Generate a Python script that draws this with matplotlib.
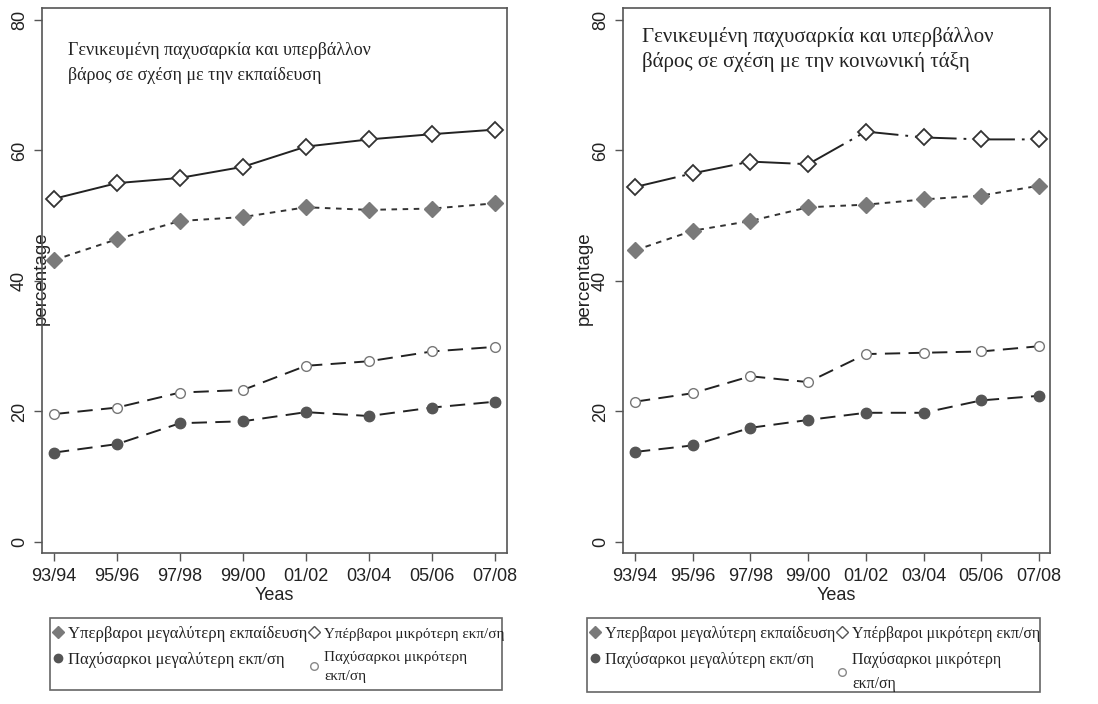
import matplotlib
matplotlib.use("Agg")
import matplotlib.pyplot as plt
import numpy as np
from matplotlib.lines import Line2D
from matplotlib.patches import Rectangle

years = ["93/94", "95/96", "97/98", "99/00", "01/02", "03/04", "05/06", "07/08"]
y_ticks = [0, 20, 40, 60, 80]

# left panel: education
edu_over_high = [43.2, 46.4, 49.2, 49.8, 51.3, 50.9, 51.1, 51.9]
edu_over_low = [52.6, 55.0, 55.8, 57.5, 60.6, 61.7, 62.5, 63.2]
edu_obese_high = [13.7, 15.0, 18.2, 18.5, 19.9, 19.3, 20.6, 21.5]
edu_obese_low = [19.6, 20.6, 22.9, 23.3, 27.0, 27.7, 29.2, 29.9]

# right panel: social class
cls_over_high = [44.7, 47.7, 49.2, 51.3, 51.7, 52.5, 53.1, 54.6]
cls_over_low = [54.4, 56.5, 58.3, 57.9, 62.9, 62.0, 61.7, 61.7]
cls_obese_high = [13.8, 14.8, 17.5, 18.7, 19.8, 19.8, 21.7, 22.4]
cls_obese_low = [21.5, 22.8, 25.4, 24.5, 28.8, 29.0, 29.2, 30.0]

titles = [
    "Γενικευμένη παχυσαρκία και υπερβάλλον\nβάρος σε σχέση με την εκπαίδευση",
    "Γενικευμένη παχυσαρκία και υπερβάλλον\nβάρος σε σχέση με την κοινωνική τάξη",
]
legend_labels = [
    "Υπερβαροι μεγαλύτερη εκπαίδευση",
    "Παχύσαρκοι μεγαλύτερη εκπ/ση",
    "Υπέρβαροι μικρότερη εκπ/ση",
    "Παχύσαρκοι μικρότερη\nεκπ/ση",
]

plt.rcParams["lines.scale_dashes"] = False
SANS = "Liberation Sans"
SERIF = "Liberation Serif"
INK = "#222222"

W, H = 1098, 704
fig = plt.figure(figsize=(W / 100, H / 100), dpi=100)


def px_axes(x0, x1, y_top, y_bot):
    return [x0 / W, 1 - y_bot / H, (x1 - x0) / W, (y_bot - y_top) / H]


panels = [
    dict(rect=px_axes(42, 507, 8, 553), xlim=(-0.19, 7.19),
         data=(edu_over_high, edu_over_low, edu_obese_high, edu_obese_low),
         low_dash=None, title_xy=(0.056, 0.937), title_fs=13, title_ls=1.6,
         ylab_x=0.017, legend_box=(50, 618, 502, 690), leg_fs=(12, 10.9)),
    dict(rect=px_axes(623, 1050, 8, 553), xlim=(-0.208, 7.19),
         data=(cls_over_high, cls_over_low, cls_obese_high, cls_obese_low),
         low_dash=(30, 5, 2, 5), title_xy=(0.045, 0.965), title_fs=15, title_ls=1.3,
         ylab_x=-0.070, legend_box=(587, 618, 1040, 692), leg_fs=(11.6, 11.4)),
]

x = np.arange(len(years))

for p, title in zip(panels, titles):
    ax = fig.add_axes(p["rect"])
    over_high, over_low, obese_high, obese_low = p["data"]

    ax.plot(x, over_high, color="#333333", lw=1.4, dashes=(4, 4),
            marker="D", ms=8, mfc="#7a7a7a", mec="#7a7a7a", zorder=3)
    low_style = dict(ls="-") if p["low_dash"] is None else dict(dashes=p["low_dash"])
    ax.plot(x, over_low, color="#222222", lw=1.4, **low_style,
            marker="D", ms=8.5, mfc="white", mec="#333333", mew=1.3, zorder=3)
    ax.plot(x, obese_high, color="#222222", lw=1.4, dashes=(11, 6),
            marker="o", ms=7.5, mfc="#555555", mec="#555555", zorder=3)
    ax.plot(x, obese_low, color="#222222", lw=1.4, dashes=(11, 6),
            marker="o", ms=7, mfc="white", mec="#777777", mew=1.0, zorder=3)

    ax.set_xlim(*p["xlim"])
    ax.set_ylim(-1.69, 81.84)
    ax.set_xticks(x)
    ax.set_xticklabels(years, fontfamily=SANS, fontsize=13, color=INK)
    ax.set_yticks(y_ticks)
    ax.set_yticklabels([str(v) for v in y_ticks], fontfamily=SANS, fontsize=13,
                       color=INK, rotation=90, va="center")
    ax.tick_params(axis="both", length=6, width=1, color="#555555", pad=4)
    ax.tick_params(axis="x", pad=5)
    for s in ax.spines.values():
        s.set_color("#555555")
        s.set_linewidth(1.2)

    ax.set_xlabel("Yeas", fontfamily=SANS, fontsize=13, color=INK, labelpad=1)
    ax.set_ylabel("percentage", fontfamily=SANS, fontsize=13.5, color=INK)
    ax.yaxis.set_label_coords(p["ylab_x"], 0.505)

    ax.text(p["title_xy"][0], p["title_xy"][1], title, transform=ax.transAxes,
            ha="left", va="top", fontfamily=SERIF, fontsize=p["title_fs"],
            linespacing=p["title_ls"], color=INK)

    # legend box (drawn separately: the wrapped label spills over it)
    bx0, by0, bx1, by1 = p["legend_box"]
    fig.patches.append(Rectangle((bx0 / W, 1 - by1 / H), (bx1 - bx0) / W, (by1 - by0) / H,
                                 transform=fig.transFigure, fill=False,
                                 edgecolor="#666666", lw=1.2))

    handles = [
        Line2D([], [], ls="none", marker="D", ms=6, mfc="#7a7a7a", mec="#7a7a7a"),
        Line2D([], [], ls="none", marker="o", ms=6, mfc="#555555", mec="#555555"),
        Line2D([], [], ls="none", marker="D", ms=6, mfc="white", mec="#555555"),
        Line2D([], [], ls="none", marker="o", ms=5.5, mfc="white", mec="#888888"),
    ]
    leg = fig.legend(handles, legend_labels, ncol=2, frameon=False,
                     loc="upper left", bbox_to_anchor=(bx0 / W, 1 - (by0 + 5) / H),
                     prop=dict(family=SERIF, size=12), handlelength=0.6,
                     handletextpad=0.3, columnspacing=0.1, labelspacing=0.6,
                     borderpad=0.2, borderaxespad=0)
    for i, txt in enumerate(leg.get_texts()):
        txt.set_color(INK)
        txt.set_fontsize(p["leg_fs"][i // 2])
    leg.get_texts()[-1].set_linespacing(1.6)

fig.savefig("out.png", dpi=100, facecolor="white")
